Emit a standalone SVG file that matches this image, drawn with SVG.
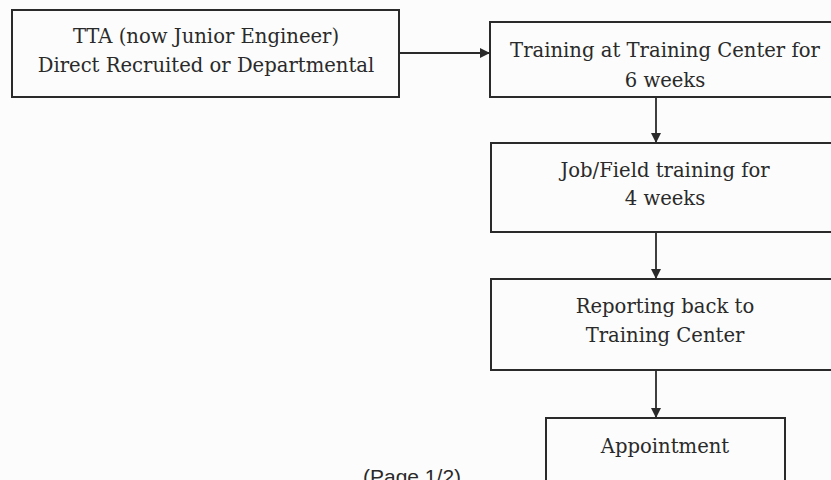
<svg xmlns="http://www.w3.org/2000/svg" width="831" height="480" viewBox="0 0 831 480">
<defs>
<style>
.box{fill:none;stroke:#2a2a2a;stroke-width:2}
.t{font-family:"DejaVu Serif","Liberation Serif",serif;font-size:19.6px;fill:#2a2a2a;text-anchor:middle}
.c{stroke:#2a2a2a;stroke-width:1.8;fill:none;marker-end:url(#ah)}
</style>
<marker id="ah" viewBox="0 0 10 10" refX="10" refY="5" markerWidth="11" markerHeight="10" markerUnits="userSpaceOnUse" orient="auto">
<path d="M0,0 L10,5 L0,10 z" fill="#2a2a2a"/>
</marker>
</defs>
<rect width="831" height="480" fill="#fcfcfc"/>
<g id="connectors">
<path class="c" d="M399,53 H490"/>
<path class="c" d="M656,97 V143"/>
<path class="c" d="M656,232 V279"/>
<path class="c" d="M656,370 V418"/>
</g>
<g id="n1">
<rect class="box" x="12" y="10" width="387" height="87"/>
<text class="t" x="206" y="43">TTA (now Junior Engineer)</text>
<text class="t" x="206" y="72">Direct Recruited or Departmental</text>
</g>
<g id="n2">
<rect class="box" x="490" y="22" width="350" height="75"/>
<text class="t" x="665" y="57">Training at Training Center for</text>
<text class="t" x="665" y="87">6 weeks</text>
</g>
<g id="n3">
<rect class="box" x="491" y="143" width="349" height="89"/>
<text class="t" x="665" y="177">Job/Field training for</text>
<text class="t" x="665" y="205">4 weeks</text>
</g>
<g id="n4">
<rect class="box" x="491" y="279" width="349" height="91"/>
<text class="t" x="665" y="313">Reporting back to</text>
<text class="t" x="665" y="342">Training Center</text>
</g>
<g id="n5">
<rect class="box" x="546" y="418" width="239" height="90"/>
<text class="t" x="665" y="453">Appointment</text>
</g>
<text x="363" y="484" font-family="Liberation Sans, Arial, sans-serif" font-size="21" fill="#2a2a2a">(Page 1/2)</text>
</svg>
